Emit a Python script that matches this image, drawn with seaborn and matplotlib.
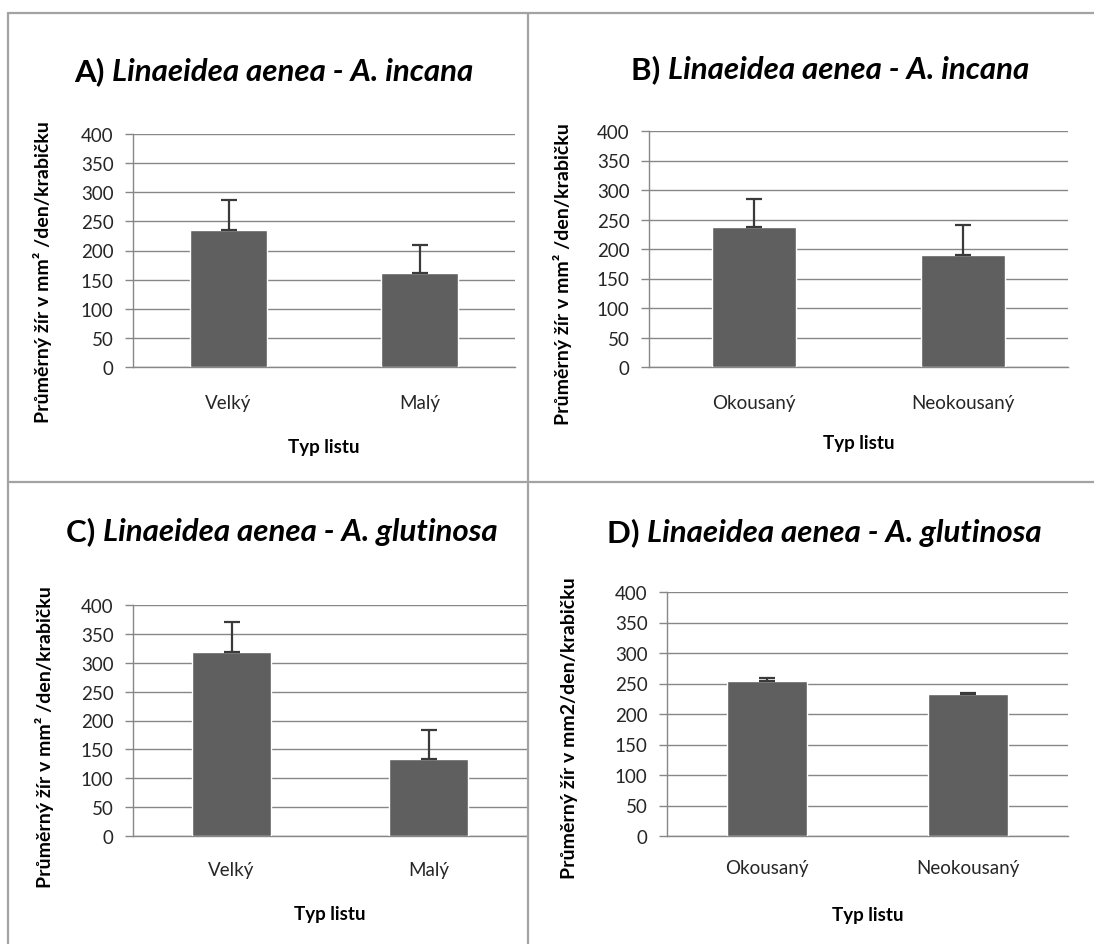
import numpy as np
import pandas as pd
import matplotlib
matplotlib.use("Agg")
import matplotlib.pyplot as plt
from matplotlib.lines import Line2D
import seaborn as sns

# Leaf-type categories
size_types = ["Velký", "Malý"]
damage_types = ["Okousaný", "Neokousaný"]

# Mean feeding (mm² / day / box) and their standard errors
a_means = [235, 161]
a_errs = [51, 48]
b_means = [237, 189]
b_errs = [48, 51]
c_means = [318, 134]
c_errs = [52, 50]
d_means = [254, 233]
d_errs = [5, 2]

panel_letters = ["A)", "B)", "C)", "D)"]
species = [
    "Linaeidea aenea - A. incana",
    "Linaeidea aenea - A. incana",
    "Linaeidea aenea - A. glutinosa",
    "Linaeidea aenea - A. glutinosa",
]
ylabels = [
    "Průměrný žír v mm² /den/krabičku",
    "Průměrný žír v mm² /den/krabičku",
    "Průměrný žír v mm² /den/krabičku",
    "Průměrný žír v mm2/den/krabičku",
]
xlabel = "Typ listu"
yticks = [0, 50, 100, 150, 200, 250, 300, 350, 400]

sns.set_theme(style="white")
plt.rcParams["font.family"] = ["Lato", "DejaVu Sans"]

W, H = 1094, 945
fig = plt.figure(figsize=(W / 100, H / 100), dpi=100)

BAR = "#5f5f5f"
GRID = "#878787"
FRAME = "#a3a3a3"
TXT = "#262626"
PT = 0.72  # points per pixel at 100 dpi


def px_rect(left, right, top, bottom):
    return [left / W, 1 - bottom / H, (right - left) / W, (bottom - top) / H]


panels = [
    dict(rect=px_rect(133, 515, 135, 368), cats=size_types, means=a_means, errs=a_errs,
         title=(274, 72), ylab=(43, 272), tick_pad=35, xlab_pad=20),
    dict(rect=px_rect(649, 1068, 132, 368), cats=damage_types, means=b_means, errs=b_errs,
         title=(830, 70), ylab=(562, 274), tick_pad=35, xlab_pad=17),
    dict(rect=px_rect(133, 527, 606, 837), cats=size_types, means=c_means, errs=c_errs,
         title=(282, 532), ylab=(45, 737), tick_pad=34, xlab_pad=19),
    dict(rect=px_rect(667, 1068, 593, 837), cats=damage_types, means=d_means, errs=d_errs,
         title=(824, 533), ylab=(569, 728), tick_pad=32, xlab_pad=21),
]

title_parts = []
for i, p in enumerate(panels):
    ax = fig.add_axes(p["rect"])
    df = pd.DataFrame({"typ": p["cats"], "zir": p["means"]})
    sns.barplot(data=df, x="typ", y="zir", order=p["cats"], color=BAR,
                saturation=1, width=0.4, errorbar=None, ax=ax, zorder=3)
    pos = np.arange(len(p["cats"]))
    ax.errorbar(pos, p["means"], yerr=[np.zeros(len(pos)), p["errs"]], fmt="none",
                ecolor="#3a3a3a", elinewidth=1.6, capsize=5.5, capthick=1.6, zorder=4)
    ax.set_xlim(-0.5, len(pos) - 0.5)
    ax.set_ylim(0, 400)
    ax.set_yticks(yticks)
    ax.yaxis.grid(True, color=GRID, lw=1.0)
    ax.set_axisbelow(True)
    for s in ["top", "right"]:
        ax.spines[s].set_visible(False)
    for s in ["left", "bottom"]:
        ax.spines[s].set_color(GRID)
        ax.spines[s].set_linewidth(1.0)
    ax.tick_params(axis="y", length=6, width=1.0, color=GRID, pad=8,
                   labelsize=13.5, labelcolor=TXT, left=True)
    ax.tick_params(axis="x", length=0, pad=p["tick_pad"] * PT, labelsize=13.5, labelcolor=TXT)
    ax.set_xlabel(xlabel, fontsize=13.5, fontweight="bold", color="black",
                  labelpad=p["xlab_pad"] * PT * 1.4)
    ax.set_ylabel("")
    for lab in ax.get_xticklabels():
        lab.set_va("center")

    fig.text(p["ylab"][0] / W, 1 - p["ylab"][1] / H, ylabels[i], rotation=90,
             ha="center", va="center", fontsize=14, fontweight="bold", color="black")

    tx, ty = p["title"]
    t1 = fig.text(tx / W, 1 - ty / H, panel_letters[i] + " ", ha="left", va="center",
                  fontsize=22.5, fontweight="bold", color="black")
    t2 = fig.text(tx / W, 1 - ty / H, species[i], ha="left", va="center",
                  fontsize=22.5, fontweight="bold", fontstyle="italic", color="black")
    title_parts.append((t1, t2, tx, ty))

# center each two-part title on its anchor
fig.canvas.draw()
renderer = fig.canvas.get_renderer()
for t1, t2, tx, ty in title_parts:
    w1 = t1.get_window_extent(renderer).width
    w2 = t2.get_window_extent(renderer).width
    x0 = tx - (w1 + w2) / 2
    t1.set_x(x0 / W)
    t2.set_x((x0 + w1) / W)

# panel frame lines
frame_lines = [
    ((8, 1094), (14, 14)),
    ((8, 8), (14, 945)),
    ((528, 528), (14, 945)),
    ((8, 1094), (483, 483)),
]
for xs, ys in frame_lines:
    fig.add_artist(Line2D([x / W for x in xs], [1 - y / H for y in ys],
                          color=FRAME, lw=1.6, transform=fig.transFigure))

fig.savefig("out.png", dpi=100, facecolor="white")
